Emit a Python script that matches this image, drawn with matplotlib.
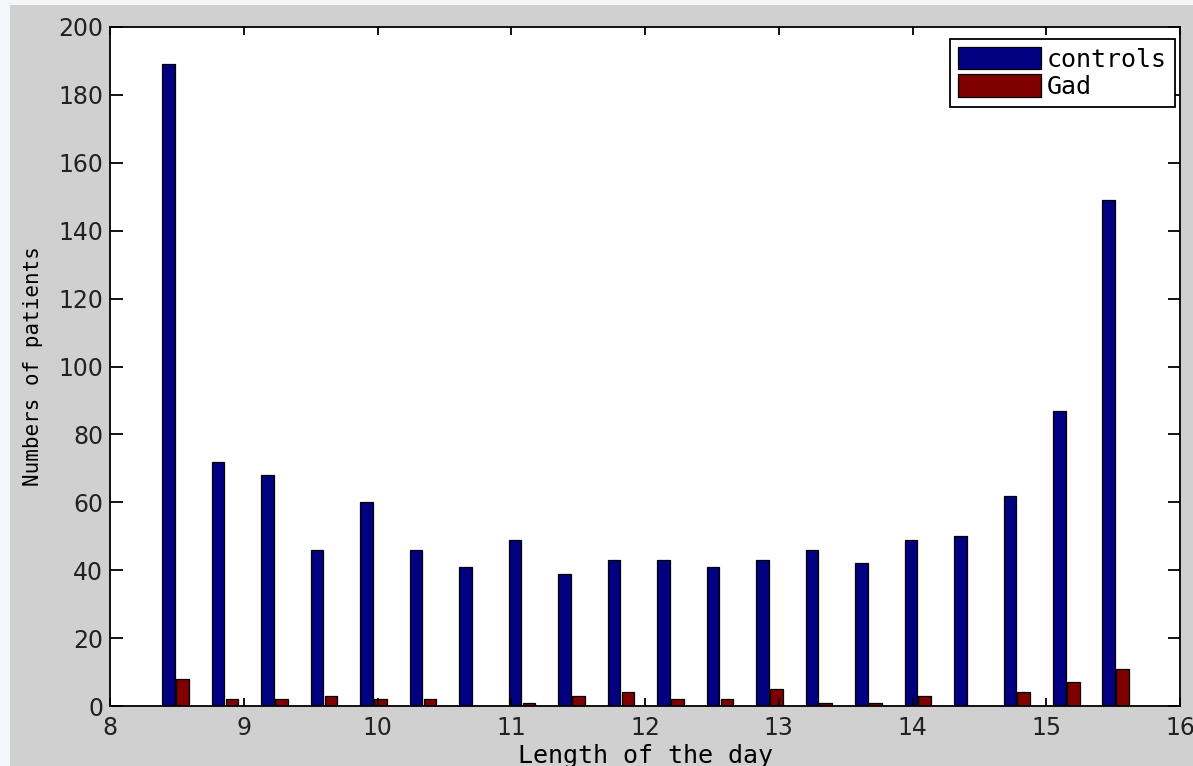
import numpy as np
import matplotlib.pyplot as plt
from matplotlib.patches import Rectangle

# bin centres (hours of daylight) and counts per bin
day_length = [8.49, 8.86, 9.23, 9.60, 9.97, 10.34, 10.71, 11.08, 11.45, 11.82,
              12.19, 12.56, 12.93, 13.30, 13.67, 14.04, 14.41, 14.78, 15.15, 15.52]
controls = [189, 72, 68, 46, 60, 46, 41, 49, 39, 43,
            43, 41, 43, 46, 42, 49, 50, 62, 87, 149]
gad = [8, 2, 2, 3, 2, 2, 0, 1, 3, 4,
       2, 2, 5, 1, 1, 3, 0, 4, 7, 11]

x_ticks = [8, 9, 10, 11, 12, 13, 14, 15, 16]
y_ticks = [0, 20, 40, 60, 80, 100, 120, 140, 160, 180, 200]

W, H = 1193, 766
fig = plt.figure(figsize=(W / 100, H / 100), dpi=100, facecolor="#f4f6fa")
# grey window background
fig.add_artist(Rectangle((10 / W, 0), 1 - 10 / W, 1 - 5 / H,
                         transform=fig.transFigure, facecolor="#d0d0d0",
                         edgecolor="none", zorder=-5))

ax = fig.add_axes([110 / W, 1 - 706 / H, (1180 - 110) / W, (706 - 27) / H])
ax.set_facecolor("white")
ax.set_zorder(2)

x = np.array(day_length)
bw = 0.095
ax.bar(x - 0.052, controls, width=bw, color="#000080", edgecolor="black",
       linewidth=0.9, label="controls")
ax.bar(x + 0.052, gad, width=bw, color="#800000", edgecolor="black",
       linewidth=0.9, label="Gad")

ax.set_xlim(8, 16)
ax.set_ylim(0, 200)
ax.set_xticks(x_ticks)
ax.set_yticks(y_ticks)

for s in ax.spines.values():
    s.set_linewidth(1.3)
ax.tick_params(axis="both", direction="in", top=True, right=True,
               labelsize=17, width=1.3, colors="black")
ax.tick_params(axis="x", length=6, pad=7)
ax.tick_params(axis="y", length=9, pad=5)
for lab in ax.get_xticklabels() + ax.get_yticklabels():
    lab.set_color("#222222")

mono = "DejaVu Sans Mono"
ax.set_xlabel("Length of the day", fontsize=18, family=mono, labelpad=3)
ax.set_ylabel("Numbers of patients", fontsize=15, family=mono, labelpad=11)

leg = ax.legend(loc="upper right", bbox_to_anchor=(1175 / W, 1 - 39 / H),
                bbox_transform=fig.transFigure, borderaxespad=0,
                prop={"family": mono, "size": 18}, fancybox=False,
                framealpha=1, edgecolor="black", handlelength=3.3,
                handleheight=1.0, handletextpad=0.25, labelspacing=0.1,
                borderpad=0.32)
leg.get_frame().set_linewidth(1.3)

fig.savefig("out.png", dpi=100, facecolor=fig.get_facecolor())
